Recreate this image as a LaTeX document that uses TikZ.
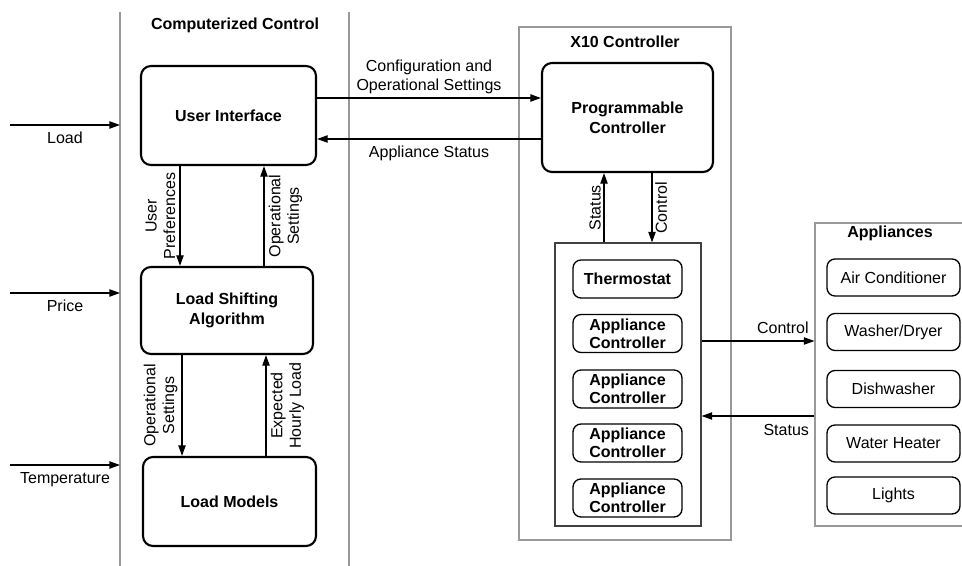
\documentclass[tikz,border=0pt]{standalone}
\usepackage{fontspec}
\setmainfont{Liberation Sans}
\usetikzlibrary{arrows.meta}

\begin{document}
\begin{tikzpicture}[x=0.75pt, y=-0.75pt,
  >={Triangle[length=8pt,width=5.5pt]}, font=\fontsize{12}{14}\selectfont,
  box/.style={rectangle, rounded corners=7.5pt, draw, line width=1.6pt, align=center,
              inner sep=0pt, font=\fontsize{12}{15}\selectfont\bfseries},
  sbox/.style={rectangle, rounded corners=6pt, draw, line width=1pt, align=center, inner sep=0pt,
               minimum width=81.75pt, minimum height=28.5pt, font=\fontsize{12}{13.5}\selectfont\bfseries},
  ibox/.style={rectangle, rounded corners=6pt, draw, line width=1pt, align=center, inner sep=0pt,
               minimum width=99.75pt, minimum height=27.75pt},
  grp/.style={rectangle, draw=black!40, line width=0.8pt, inner sep=0pt},
  sep/.style={draw=black!40, line width=1pt},
  ttl/.style={font=\fontsize{12}{14}\selectfont\bfseries, inner sep=1pt},
  e/.style={->, line width=1pt},
  lbl/.style={inner sep=2pt, align=center},
]
\useasboundingbox (0,0) rectangle (962,566);

% column separators
\draw[sep] (120,12) -- (120,566);
\draw[sep] (349,12) -- (349,566);
\node[ttl] (cctitle) at (235,25) {Computerized Control};

% computerized control
\node[box, minimum width=131.25pt, minimum height=74.25pt] (ui)  at (228.5,115.5) {User Interface};
\node[box, minimum width=129pt,    minimum height=65.25pt] (lsa) at (227,310.5)   {Load Shifting\\Algorithm};
\node[box, minimum width=129.75pt, minimum height=66.75pt] (lm)  at (229.5,501.5) {Load Models};

% inputs
\coordinate (loadsrc) at (10,125);  \coordinate (loaddst) at (120,125);
\coordinate (pricesrc) at (10,293); \coordinate (pricedst) at (120,293);
\coordinate (tempsrc) at (10,465);  \coordinate (tempdst) at (120,465);
\draw[e] (loadsrc)  -- (loaddst)  node[lbl,midway,below=3pt]{Load};
\draw[e] (pricesrc) -- (pricedst) node[lbl,midway,below=3pt]{Price};
\draw[e] (tempsrc)  -- (tempdst)  node[lbl,midway,below=3pt]{Temperature};

\draw[e] (180,0 |- ui.south) -- (180,0 |- lsa.north)
  node[lbl,midway,rotate=90,anchor=south,yshift=1pt]{User\\Preferences};
\draw[e] (264,0 |- lsa.north) -- (264,0 |- ui.south)
  node[lbl,midway,rotate=90,anchor=north,yshift=-1pt]{Operational\\Settings};
\draw[e] (182,0 |- lsa.south) -- (182,0 |- lm.north)
  node[lbl,midway,rotate=90,anchor=south,yshift=1pt]{Operational\\Settings};
\draw[e] (266,0 |- lm.north) -- (266,0 |- lsa.south)
  node[lbl,midway,rotate=90,anchor=north,yshift=-1pt]{Expected\\Hourly Load};

% X10 controller
\node[grp, minimum width=159pt, minimum height=384.75pt] (xten) at (625,283.5) {};
\node[ttl] (xtitle) at (625,42) {X10 Controller};
\node[box, minimum width=128.25pt, minimum height=81.75pt] (pc) at (627.5,117.5) {Programmable\\Controller};
\node[grp, draw=black!75, minimum width=109.5pt, minimum height=212.25pt] (ctrls) at (628,384.5) {};
\node[sbox] (thermo) at (627.5,279) {Thermostat};
\node[sbox] (ac1) at (627.5,333.5) {Appliance\\Controller};
\node[sbox] (ac2) at (627.5,389)   {Appliance\\Controller};
\node[sbox] (ac3) at (627.5,443)   {Appliance\\Controller};
\node[sbox] (ac4) at (627.5,498)   {Appliance\\Controller};

\draw[e] (ui.east |- 0,98) -- (pc.west |- 0,98)
  node[lbl,midway,above=1pt]{Configuration and\\Operational Settings};
\draw[e] (pc.west |- 0,139) -- (ui.east |- 0,139)
  node[lbl,midway,below=3pt]{Appliance Status};
\draw[e] (604,0 |- ctrls.north) -- (604,0 |- pc.south)
  node[lbl,midway,rotate=90,anchor=south]{Status};
\draw[e] (652,0 |- pc.south) -- (652,0 |- ctrls.north)
  node[lbl,midway,rotate=90,anchor=north]{Control};

% appliances
\node[grp, minimum width=113.25pt, minimum height=227.25pt] (apps) at (890.5,374.5) {};
\node[ttl] (atitle) at (890,233) {Appliances};
\node[ibox] (aircon) at (893.5,277.5) {Air Conditioner};
\node[ibox] (washer) at (893.5,332)   {Washer/Dryer};
\node[ibox] (dish)   at (893.5,389)   {Dishwasher};
\node[ibox] (heater) at (893.5,443.5) {Water Heater};
\node[ibox] (lights) at (893.5,495.5) {Lights};

\draw[e] (ctrls.east |- 0,341) -- (apps.west |- 0,341)
  node[lbl,pos=0.72,above=3pt]{Control};
\draw[e] (apps.west |- 0,416) -- (ctrls.east |- 0,416)
  node[lbl,pos=0.25,below=4pt]{Status};
\end{tikzpicture}
\end{document}
